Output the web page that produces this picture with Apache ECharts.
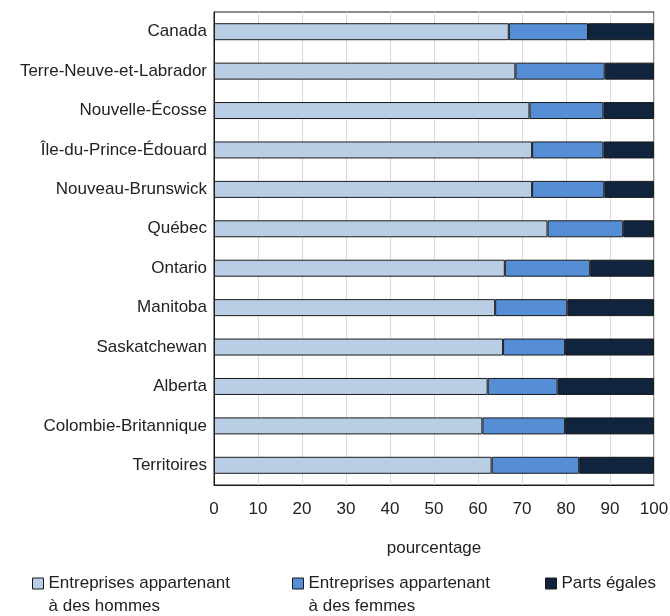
<!DOCTYPE html>
<html><head><meta charset="utf-8">
<script src="https://cdn.jsdelivr.net/npm/echarts@6/dist/echarts.min.js"></script>
<style>html,body{margin:0;padding:0;background:#fff}#c{width:670px;height:616px}</style>
</head><body><div id="c"></div>
<script>
const categories = ["Canada","Terre-Neuve-et-Labrador","Nouvelle-Écosse","Île-du-Prince-Édouard","Nouveau-Brunswick","Québec","Ontario","Manitoba","Saskatchewan","Alberta","Colombie-Britannique","Territoires"];
const men   = [67.0, 68.5, 71.7, 72.3, 72.3, 75.8, 66.1, 63.9, 65.7, 62.2, 61.0, 63.1];
const women = [18.0, 20.3, 16.8, 16.2, 16.4, 17.2, 19.4, 16.4, 14.1, 15.9, 18.8, 19.9];
const equal = [15.0, 11.2, 11.5, 11.5, 11.3,  7.0, 14.5, 19.7, 20.2, 21.9, 20.2, 17.0];
const seriesNames = ["Entreprises appartenant\nà des hommes","Entreprises appartenant\nà des femmes","Parts égales"];
const xTicks = [0,10,20,30,40,50,60,70,80,90,100];

const FONT = '"Liberation Sans", Arial, sans-serif';
const FS = 17;
const colors = ['#b9cde5','#558ed5','#10243e'];
const chart = echarts.init(document.getElementById('c'), null, {renderer:'canvas'});
const mkSeries = (name, data, i) => ({
  name, type:'bar', stack:'total', data, barWidth:17,
  itemStyle:{color:colors[i], borderColor:'#1a1a1a', borderWidth:1},
  emphasis:{disabled:true}
});
const legendBase = (idx, left, twoLine) => ({
  data:[seriesNames[idx]], left, top: twoLine ? 549 : 572, orient:'horizontal',
  itemWidth:11, itemHeight:11, itemGap:4,
  icon:'rect', padding:0,
  itemStyle:{borderColor:'#1a1a1a', borderWidth:1},
  formatter: twoLine ? (n => ' \n' + n) : (n => n),
  textStyle:{fontFamily:FONT, fontSize:FS, color:'#222', lineHeight:23},
  selectedMode:false
});
chart.setOption({
  animation:false,
  textStyle:{fontFamily:FONT},
  grid:{left:214, right:16, top:12, bottom:131, show:true, borderColor:'#1a1a1a', borderWidth:1, containLabel:false, outerBoundsMode:'none'},
  xAxis:{
    type:'value', min:0, max:100, interval:10,
    axisLine:{show:true, lineStyle:{color:'#1a1a1a'}},
    axisTick:{show:false},
    splitLine:{show:true, lineStyle:{color:'#d9d9d9'}},
    axisLabel:{fontFamily:FONT, fontSize:FS, color:'#222', margin:16,
      formatter:v => xTicks.includes(v) ? String(v) : ''},
    name:'pourcentage', nameLocation:'middle', nameGap:55,
    nameTextStyle:{fontFamily:FONT, fontSize:FS, color:'#222'}
  },
  yAxis:{
    type:'category', data:categories, inverse:true,
    axisLine:{show:true, lineStyle:{color:'#1a1a1a'}},
    axisTick:{show:false},
    axisLabel:{fontFamily:FONT, fontSize:FS, color:'#222', margin:7}
  },
  legend:[legendBase(0,32,true), legendBase(1,292,true), legendBase(2,545,false)],
  series:[mkSeries(seriesNames[0],men,0), mkSeries(seriesNames[1],women,1), mkSeries(seriesNames[2],equal,2)]
});
</script></body></html>
